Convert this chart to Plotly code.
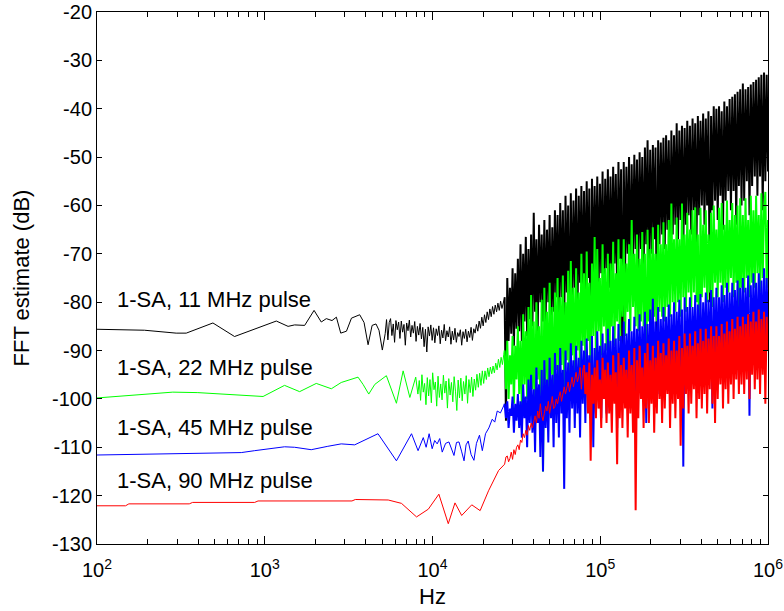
import numpy as np
import plotly.graph_objects as go

# ---------------- data (log10 of frequency in Hz, value in dB) ----------------
# Sparse low-frequency part of each trace
BLACK_LOW_LOGF = [2.0, 2.283, 2.472, 2.532, 2.691, 2.82, 3.069, 3.139, 3.178, 3.238, 3.294,
                  3.337, 3.367, 3.401, 3.427, 3.453, 3.487, 3.517, 3.566, 3.592, 3.616, 3.64,
                  3.663, 3.681, 3.701]
BLACK_LOW_DB = [-85.6, -85.8, -86.4, -86.4, -84.3, -87.1, -83.9, -85.0, -84.7, -84.8, -81.7,
                -84.1, -83.4, -83.8, -83.1, -86.4, -86.0, -83.3, -82.6, -84.2, -88.8, -84.8,
                -84.5, -85.8, -89.9]
# Noisy mid part (evenly spaced bins from 10^3.718 to 10^4.422)
BLACK_MID_DB = [-86.5, -83.6, -87.8, -84.2, -83.4, -86.9, -84.5, -88.3, -83.8, -85.7,
                -84.1, -87.5, -83.9, -86.2, -84.6, -88.9, -84.3, -85.9, -83.7, -87.2,
                -84.8, -86.4, -84.0, -88.1, -85.0, -86.8, -84.4, -87.6, -85.2, -89.2,
                -85.6, -90.3, -85.1, -87.0, -84.7, -87.9, -85.3, -88.4, -85.5, -86.9,
                -84.9, -88.6, -85.8, -87.4, -84.6, -88.0, -85.9, -87.2, -85.1, -88.7,
                -86.0, -87.8, -85.4, -88.3, -86.3, -87.1, -85.7, -88.9, -86.1, -87.5,
                -85.6, -88.2, -86.0, -87.3, -85.2, -87.9, -85.5, -86.4, -84.6, -86.0,
                -83.9, -85.4, -83.1, -84.9, -82.6, -84.2, -82.0, -83.6, -81.4, -83.0,
                -80.9, -82.5, -80.6, -82.0, -80.2, -81.7, -79.8, -81.3, -80.0]
# Dense part (evenly spaced bins from 10^4.43 to 10^6)
BLACK_DENSE_DB = [
    -79, -104.5, -75, -88, -77, -86.5, -73, -89, -74, -85.5,
    -71, -86, -68, -88, -70, -84, -66.5, -87, -69, -83.5,
    -66, -85, -61.5, -82, -67, -86, -64, -80, -66, -84,
    -63, -84, -65, -80, -62, -86, -64.5, -82, -61, -79,
    -62, -83, -59.5, -79, -61, -85, -58, -78, -60, -90,
    -57.5, -81, -59, -77, -56.5, -84, -58, -76, -56, -80,
    -57, -79, -55, -75, -56.5, -93, -54.5, -77, -56, -76,
    -54, -78, -55.5, -74, -53, -80, -54.5, -73, -52.5, -77,
    -54, -76, -52, -72, -53.5, -79, -51, -71, -52.5, -95,
    -51, -74, -52, -70, -50, -77, -51.5, -72, -49.5, -69,
    -50.5, -73, -49, -69, -50, -75, -48, -68, -46.5, -72,
    -48.5, -70, -47.5, -67, -48, -88, -46.5, -68, -47, -66,
    -46, -69, -45.5, -65, -46.5, -71, -44.5, -66, -45.5, -64,
    -43, -67, -44.5, -63, -43.5, -70, -44, -64, -42.5, -62,
    -43.5, -66, -42, -61, -43, -68, -41.5, -62, -42.5, -60,
    -41, -64, -42, -60, -40.5, -80, -41.5, -61, -39.5, -59,
    -40, -63, -39.5, -58, -40.5, -65, -38.5, -59, -39.5, -57,
    -38, -61, -37.5, -57, -37, -64, -36.5, -56, -36, -60,
    -34.8, -59, -36, -55, -35.5, -62, -35, -56, -34.5, -54,
    -34, -58, -33.5, -54, -33, -61, -32.5, -55, -33, -53]

GREEN_LOW_LOGF = [2.0, 2.263, 2.452, 2.601, 2.91, 2.99, 3.118, 3.208, 3.307, 3.397, 3.456,
                  3.556, 3.586, 3.62, 3.656, 3.725, 3.785, 3.825, 3.865, 3.9]
GREEN_LOW_DB = [-99.8, -99.1, -98.6, -98.7, -99.3, -99.5, -97.2, -98.5, -96.8, -97.9, -96.6,
                -95.5, -97.0, -99.0, -97.0, -95.2, -100.9, -94.2, -99.7, -95.5]
# bins from 10^3.913 to 10^4.425
GREEN_MID_DB = [-99.0, -96.2, -100.3, -95.0, -98.6, -96.8, -101.2, -95.6, -99.4, -96.0,
                -100.8, -94.6, -98.1, -96.5, -101.5, -95.3, -99.7, -96.9, -100.2, -95.1,
                -98.8, -96.3, -101.9, -95.8, -99.2, -96.6, -100.6, -95.4, -98.4, -102.4,
                -96.1, -99.8, -95.7, -100.4, -96.4, -99.0, -95.2, -100.9, -96.0, -98.7,
                -95.5, -99.5, -95.9, -98.2, -94.9, -97.6, -94.7, -97.2, -94.2, -96.8,
                -94.2, -96.0, -93.6, -95.4, -93.4, -94.8, -93.2, -94.6, -92.6, -94.0,
                -91.8, -93.5, -91.4, -92.9, -90.8]
GREEN_DENSE_DB = [
    -90, -98, -88, -100, -91, -97, -87, -101, -89, -96,
    -85, -99, -88, -102, -82.5, -97, -86, -100, -81, -103,
    -78.5, -98, -84, -104, -80, -96, -85, -101, -79.5, -115,
    -77, -97, -82, -100, -76, -95, -81, -103, -78, -94,
    -75, -98, -79, -93, -74.5, -99, -80, -92, -73.5, -97,
    -71.5, -91, -77, -96, -73, -90, -78, -95, -70, -89,
    -74, -94, -69.5, -88, -76, -93, -72, -87, -66.5, -92,
    -69, -86, -75, -91, -68, -85, -73, -90, -70, -100,
    -72, -85, -67.5, -89, -74, -84, -67, -88, -71, -83,
    -67, -87, -72, -82, -68, -86, -63, -81, -70, -85,
    -66, -86, -71, -84, -65.5, -85, -70, -98, -65, -84,
    -69, -85, -64.5, -83, -70, -84, -64, -82, -68, -83,
    -63.5, -84, -68, -81, -63, -83, -59.6, -80, -67, -82,
    -62.5, -80, -67, -83, -59.6, -79, -66, -82, -61.5, -78,
    -65, -81, -61, -78, -60.4, -80, -66, -92, -60.5, -79,
    -64, -77, -61, -80, -66, -78, -61.5, -81, -60, -76,
    -65, -79, -60.5, -76, -59.5, -80, -64, -77, -59, -78,
    -63, -75, -59.5, -79, -62, -76, -60, -88, -58.5, -77,
    -62, -78, -58.5, -75, -63, -79, -58, -76, -61, -77,
    -58, -74, -62, -78, -57.5, -75, -61, -57.2, -77, -63]

BLUE_LOW_LOGF = [2.0, 2.403, 2.86, 2.94, 3.118, 3.178, 3.277, 3.376, 3.456, 3.536, 3.675,
                 3.785, 3.875, 3.914, 3.945, 3.962, 3.98, 3.998, 4.013, 4.028, 4.043, 4.058,
                 4.078, 4.098, 4.113, 4.128, 4.143, 4.158, 4.173, 4.188, 4.2, 4.213, 4.23,
                 4.247, 4.262, 4.28, 4.297, 4.316, 4.336, 4.356, 4.371, 4.386, 4.405, 4.42]
BLUE_LOW_DB = [-111.6, -111.4, -111.1, -110.7, -109.9, -110.0, -110.5, -109.8, -109.3, -109.5,
               -107.2, -112.8, -107.2, -110.7, -108.0, -110.0, -107.2, -110.3, -108.6, -109.3,
               -108.2, -111.0, -109.2, -108.9, -110.4, -111.7, -109.0, -108.9, -110.8, -112.8,
               -109.5, -108.7, -111.5, -112.7, -109.2, -107.5, -110.7, -107.2, -106.0, -104.2,
               -104.8, -102.5, -102.9, -101.5]
BLUE_DENSE_DB = [
    -101, -104, -100.5, -106, -102, -103.5, -99.5, -107, -101, -104.5,
    -99, -106, -100.5, -108, -97, -104, -99.5, -110, -96, -105,
    -95, -107, -98, -111, -93.5, -105, -97, -112, -94, -115,
    -92, -106, -96, -109, -91.5, -104, -95, -110, -90.5, -105,
    -93, -108, -89.5, -103, -94, -118.6, -90, -104, -92.5, -107,
    -88.5, -102, -92, -106, -89, -103, -91.5, -108, -88, -101,
    -90, -105, -87.5, -100, -91, -104, -87, -110, -89.5, -103,
    -86, -99, -89, -104, -86.5, -100, -88.5, -103, -85.5, -98,
    -88, -102, -85, -99, -87.5, -106, -84.5, -101, -87, -98,
    -84, -100, -86.5, -97, -83.5, -102, -86, -98, -83, -101,
    -85.5, -97, -82.5, -100, -85, -96, -82, -105, -84.5, -99,
    -81.5, -96, -79.3, -100, -84, -97, -81, -99, -83.5, -95,
    -81, -98, -83, -95, -80.5, -99, -82.5, -96, -80, -97,
    -82, -94, -79.5, -98, -81.5, -114, -79, -97, -81, -95,
    -79, -96, -81, -93, -78.5, -97, -80.5, -94, -78.3, -96,
    -80, -92, -78, -96, -79.5, -93, -77.5, -102, -79, -94,
    -77, -95, -79, -91, -76.5, -94, -78.5, -92, -76, -95,
    -78, -91, -76, -94, -77.5, -90, -75.5, -96, -77, -91,
    -75, -93, -77, -89, -74.5, -103.5, -76.5, -92, -74, -90,
    -76, -93, -74, -89, -75.5, -92, -73, -90, -75, -88]

RED_LOW_LOGF = [2.0, 2.17, 2.19, 2.55, 2.57, 2.94, 2.96, 3.52, 3.54, 3.736, 3.815, 3.905,
                3.975, 4.038, 4.094, 4.134, 4.174, 4.234, 4.284, 4.334, 4.394, 4.42]
RED_LOW_DB = [-122.1, -122.1, -121.7, -121.7, -121.4, -121.4, -121.1, -121.1, -120.8, -120.9,
              -121.6, -124.4, -122.8, -119.7, -125.8, -121.5, -124.1, -121.9, -123.1, -119.0,
              -114.8, -113.8]
# first 60 dense bins of the red trace form a thin rising line, the rest is noise
RED_DENSE_DB = [
    -113.5, -112, -111.8, -113, -112.3, -111, -112.5, -110.5, -111.5, -110,
    -109.5, -110.5, -108.5, -109, -107.2, -108, -106.5, -107.5, -105.5, -106.5,
    -105, -106, -104.4, -103.5, -105, -102.5, -104, -101, -103.5, -104.5,
    -103, -101.5, -102.5, -100.5, -103, -101, -99.5, -102, -101.6, -100,
    -101, -99.5, -98.5, -100.5, -99, -97.5, -99, -98, -96.5, -98.5,
    -97, -95.5, -97.5, -96, -94.5, -96.5, -95.4, -93.5, -98, -94,
    -93, -99, -94.5, -103, -92.5, -112.8, -95, -101, -93.5, -104,
    -92, -102, -96, -106, -91.5, -100, -94, -105, -92.5, -103,
    -95, -107, -91, -101, -94.5, -113.5, -90.5, -104, -93, -106,
    -91.5, -102, -94, -108, -90, -103, -93, -107, -89.5, -123,
    -92, -104, -89, -100, -93.5, -106, -90.5, -102, -88.5, -105,
    -92, -101, -89, -107, -91.5, -103, -88, -100, -90.5, -105,
    -88.5, -102, -91, -99, -87.5, -106, -90, -101, -88, -104,
    -90, -100, -87, -109.7, -89.5, -102, -86.5, -99, -89, -103,
    -86.5, -101, -89, -98, -86, -104, -88.5, -100, -85.5, -102,
    -88, -99, -85.5, -103, -87.5, -98, -85, -101, -87, -105,
    -85, -100, -87, -97, -84.5, -102, -86.5, -98, -84, -101,
    -86, -97, -83.5, -100, -85.5, -96, -83, -99, -85, -97,
    -83, -99, -84.5, -96, -82.5, -100, -84, -95, -82, -98,
    -84, -96, -81.5, -99, -83.5, -95, -82, -101, -83, -90]
RED_THIN_BINS = 60

LABELS = ["1-SA, 11 MHz pulse", "1-SA, 22 MHz pulse", "1-SA, 45 MHz pulse", "1-SA, 90 MHz pulse"]
LABEL_Y = [-79.5, -93.5, -105.9, -116.9]
LABEL_LOGX = 2.107
COLORS = ["#000000", "#00ff00", "#0000ff", "#ff0000"]

Y_TICKS = [-20, -30, -40, -50, -60, -70, -80, -90, -100, -110, -120, -130]
Y_TICKTEXT = ["-20", "-30", "-40", "-50", "-60", "-70", "-80", "-90", "-100", "-110", "-120", "-130"]
X_TICKS = [1e2, 1e3, 1e4, 1e5, 1e6]
X_TICKTEXT = ["10<sup>2</sup>", "10<sup>3</sup>", "10<sup>4</sup>", "10<sup>5</sup>", "10<sup>6</sup>"]
X_MINOR = [k * 10.0 ** d for d in range(2, 6) for k in range(2, 10)]

DENSE_START, DENSE_END = 4.43, 6.0


def build(low_logf, low_db, dense_db, mid_db=None, mid_range=None, thin=0):
    xs = [np.asarray(low_logf, float)]
    ys = [np.asarray(low_db, float)]
    if mid_db is not None:
        xs.append(np.linspace(mid_range[0], mid_range[1], len(mid_db)))
        ys.append(np.asarray(mid_db, float))
    gx = np.linspace(DENSE_START, DENSE_END, len(dense_db))
    gy = np.asarray(dense_db, float)
    xs.append(gx[:thin + 1])
    ys.append(gy[:thin + 1])
    sx = np.concatenate(xs)
    sy = np.concatenate(ys)
    dx = np.concatenate([sx[-1:], gx[thin + 1:]])
    dy = np.concatenate([sy[-1:], gy[thin + 1:]])
    return (10 ** sx, sy), (10 ** dx, dy)


traces = [
    build(BLACK_LOW_LOGF, BLACK_LOW_DB, BLACK_DENSE_DB, BLACK_MID_DB, (3.718, 4.422)),
    build(GREEN_LOW_LOGF, GREEN_LOW_DB, GREEN_DENSE_DB, GREEN_MID_DB, (3.913, 4.425)),
    build(BLUE_LOW_LOGF, BLUE_LOW_DB, BLUE_DENSE_DB),
    build(RED_LOW_LOGF, RED_LOW_DB, RED_DENSE_DB, thin=RED_THIN_BINS),
]

FONT = "Liberation Sans, Arial, Helvetica, sans-serif"

fig = go.Figure()
for (sparse, dense), c in zip(traces, COLORS):
    fig.add_trace(go.Scatter(x=sparse[0], y=sparse[1], mode="lines", line=dict(color=c, width=1),
                             showlegend=False, hoverinfo="skip"))
    fig.add_trace(go.Scatter(x=dense[0], y=dense[1], mode="lines", line=dict(color=c, width=2),
                             showlegend=False, hoverinfo="skip"))

for txt, yy in zip(LABELS, LABEL_Y):
    fig.add_annotation(x=LABEL_LOGX, y=yy, xref="x", yref="y", text=txt, showarrow=False,
                       xanchor="left", yanchor="middle",
                       font=dict(family=FONT, size=22, color="#000000"))

axis_common = dict(showline=True, linecolor="black", linewidth=1, mirror="ticks",
                   ticks="inside", tickcolor="black", showgrid=False, zeroline=False,
                   automargin=False, ticklabeloverflow="allow",
                   tickfont=dict(family=FONT, size=20, color="#000000"))

fig.update_layout(
    width=784, height=611,
    margin=dict(l=97, r=16, t=12, b=67),
    paper_bgcolor="white", plot_bgcolor="white",
    xaxis=dict(type="log", range=[2, 6], tickmode="array", tickvals=X_TICKS, ticktext=X_TICKTEXT,
               ticklen=8, ticklabelstandoff=8,
               minor=dict(tickmode="array", tickvals=X_MINOR, ticks="inside", ticklen=5,
                          tickcolor="black", showgrid=False),
               title=dict(text="Hz", font=dict(family=FONT, size=22, color="#000000"), standoff=8),
               **axis_common),
    yaxis=dict(range=[-130, -20], tickmode="array", tickvals=Y_TICKS, ticktext=Y_TICKTEXT,
               ticklen=5,
               title=dict(text="FFT estimate (dB)", font=dict(family=FONT, size=22, color="#000000"),
                          standoff=16),
               **axis_common),
)

# remove the browser's default body margin so the figure sits at the window's top-left corner
fig.write_html("out.html", config={"displayModeBar": False},
               post_script="document.body.style.margin='0px';")
